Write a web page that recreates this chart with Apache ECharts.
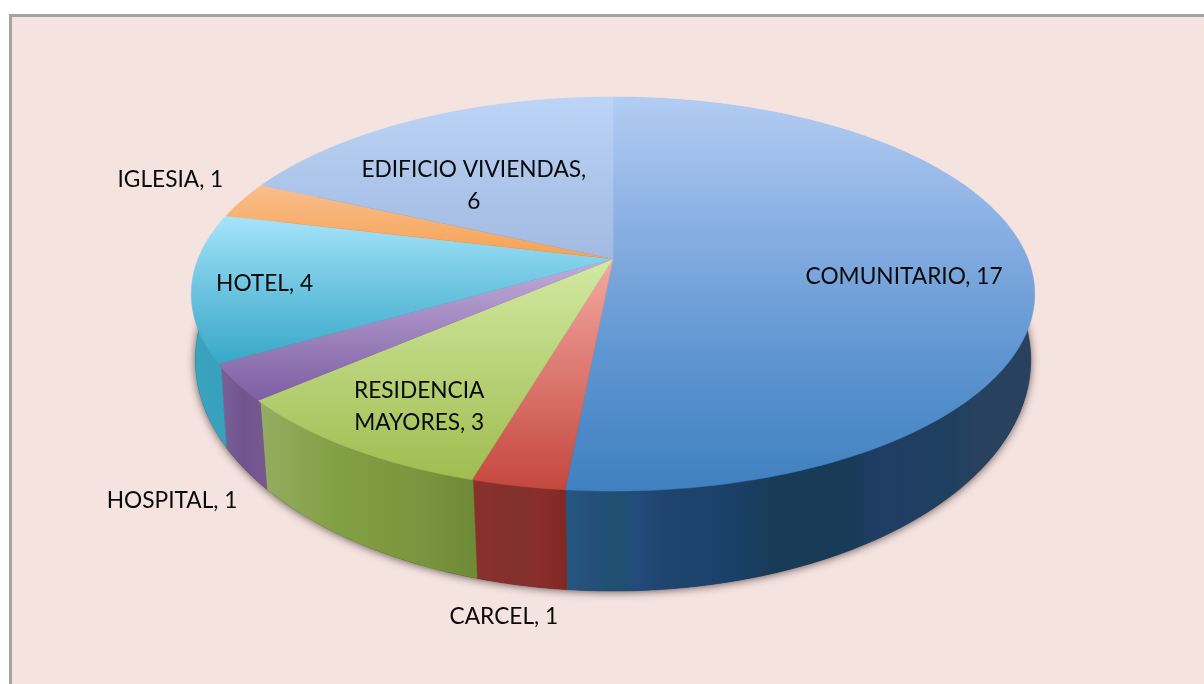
<!DOCTYPE html>
<html>
<head>
<meta charset="utf-8">
<style>
  html, body { margin: 0; padding: 0; background: #fff; }
  #chart { width: 1204px; height: 684px; }
</style>
</head>
<body>
<div id="chart"></div>
<script src="https://cdn.jsdelivr.net/npm/echarts@6/dist/echarts.min.js"></script>
<script>
// data, clockwise from 12 o'clock
const categories = ['COMUNITARIO', 'CARCEL', 'RESIDENCIA\nMAYORES', 'HOSPITAL', 'HOTEL', 'IGLESIA', 'EDIFICIO VIVIENDAS']
const values = [17, 1, 3, 1, 4, 1, 6]
const labelSep = [', ', ', ', ', ', ', ', ', ', ', ', ',\n']

// label offset from the outer rim at the middle of each slice
const labelOffset = [[-127, 9], [-14, 131], [70, -41], [-64, 118], [73, -3], [-72, -20], [56, 66]]

// top face colours (top to bottom of the slice)
const topColors = [
  [[0, '#b3cdf3'], [0.3, '#8db2e4'], [0.65, '#5f96d1'], [1, '#3f80c0']],
  [[0, '#f4a9a2'], [1, '#c4473e']],
  [[0, '#d2e9a2'], [1, '#9fbd50']],
  [[0, '#c3acdc'], [1, '#7d5ea2']],
  [[0, '#a6e4fb'], [0.5, '#6cc4e0'], [1, '#38a8c7']],
  [[0, '#f9be8c'], [1, '#f6a253']],
  [[0, '#bcd4f6'], [1, '#a2b9e1']]
]
// side wall colours (left to right, the reference is banded)
const wallColors = [
  [[0, '#25587f'], [0.05, '#264f7c'], [0.12, '#1f4f70'], [0.16, '#234a7c'], [0.2, '#1f4570'], [0.36, '#1b4068'],
    [0.44, '#183c58'], [0.62, '#183c58'], [0.65, '#203c66'], [0.82, '#1f4060'], [0.88, '#27415f'], [1, '#27415f']],
  [[0, '#8a302d'], [0.55, '#81302a'], [0.7, '#8b2e2b'], [1, '#802724']],
  [[0, '#94ac62'], [0.35, '#82a044'], [0.7, '#7a963e'], [1, '#6e8a37']],
  [[0, '#7c6098'], [0.5, '#6f5490'], [1, '#77598f']],
  [[0, '#3aa3bf'], [1, '#37a0bb']],
  [[0, '#d98f49'], [1, '#d98f49']],
  [[0, '#8ba3c8'], [1, '#8ba3c8']]
]

// perspective of the two rims of the disc, fitted to the picture
const topRim = { x: 613, y: 259, sx: 415, sy: 190.8, k: 0.1777 }
const bottomRim = { x: 613, y: 325.4, sx: 413, sy: 225.8, k: 0.15 }

const total = values.reduce((a, b) => a + b, 0)

function project(rim, angle, radius) {
  const X = Math.sin(angle) * radius
  const Y = -Math.cos(angle) * radius
  const d = 1 - rim.k * Y
  return [rim.x + rim.sx * X / d, rim.y + rim.sy * Y / d]
}

function sliceAngles(index) {
  const before = values.slice(0, index).reduce((a, b) => a + b, 0)
  const start = before / total * Math.PI * 2
  return [start, start + values[index] / total * Math.PI * 2]
}

function arc(rim, start, end, radius) {
  const steps = Math.max(2, Math.ceil((end - start) / (Math.PI / 180)))
  const pts = []
  for (let i = 0; i <= steps; i++) {
    pts.push(project(rim, start + (end - start) * i / steps, radius))
  }
  return pts
}

const seriesData = values.map((v, i) => [v, i])

function renderShadow() {
  return {
    type: 'polygon',
    shape: { points: arc(bottomRim, 0, Math.PI * 2, 1) },
    style: {
      fill: '#3a3030',
      shadowColor: 'rgba(40, 25, 25, 0.7)',
      shadowBlur: 8,
      shadowOffsetX: 0,
      shadowOffsetY: 1
    }
  }
}

function renderWall(params, api) {
  const i = api.value(1)
  const a = sliceAngles(i)
  const fill = new echarts.graphic.LinearGradient(0, 0, 1, 0,
    wallColors[i].map(s => ({ offset: s[0], color: s[1] })))
  return {
    type: 'polygon',
    // the upper edge stays just inside the top face so no dark fringe shows on the rim
    shape: { points: arc(topRim, a[0], a[1], 0.995).concat(arc(bottomRim, a[0], a[1], 1).reverse()) },
    style: { fill: fill, stroke: fill, lineWidth: 0.5 }
  }
}

function renderTop(params, api) {
  const i = api.value(1)
  const a = sliceAngles(i)
  const fill = new echarts.graphic.LinearGradient(0, 0, 0, 1,
    topColors[i].map(s => ({ offset: s[0], color: s[1] })))
  return {
    type: 'polygon',
    shape: { points: [project(topRim, 0, 0)].concat(arc(topRim, a[0], a[1], 1)) },
    style: { fill: fill, stroke: fill, lineWidth: 0.5 }
  }
}

function renderLabel(params, api) {
  const i = api.value(1)
  const a = sliceAngles(i)
  const rim = project(topRim, (a[0] + a[1]) / 2, 1)
  return {
    type: 'text',
    style: {
      x: rim[0] + labelOffset[i][0],
      y: rim[1] + labelOffset[i][1],
      text: categories[i] + labelSep[i] + api.value(0),
      fill: '#0a0a0a',
      font: '22.7px Lato, sans-serif',
      lineHeight: 32,
      align: 'center',
      verticalAlign: 'middle'
    }
  }
}

const chart = echarts.init(document.getElementById('chart'), null, { renderer: 'canvas' })
chart.setOption({
  animation: false,
  backgroundColor: '#fff',
  graphic: [{
    type: 'rect',
    z: -1,
    shape: { x: 10.5, y: 15.5, width: 1300, height: 800 },
    style: { fill: '#f5e3e0', stroke: '#a3a3a3', lineWidth: 3 }
  }],
  series: [
    { type: 'custom', coordinateSystem: 'none', silent: true, z: 1, data: [[total, 0]], renderItem: renderShadow },
    { type: 'custom', coordinateSystem: 'none', silent: true, z: 2, data: seriesData, renderItem: renderWall },
    { type: 'custom', coordinateSystem: 'none', silent: true, z: 3, data: seriesData, renderItem: renderTop },
    { type: 'custom', coordinateSystem: 'none', silent: true, z: 4, data: seriesData, renderItem: renderLabel }
  ]
})
</script>
</body>
</html>
